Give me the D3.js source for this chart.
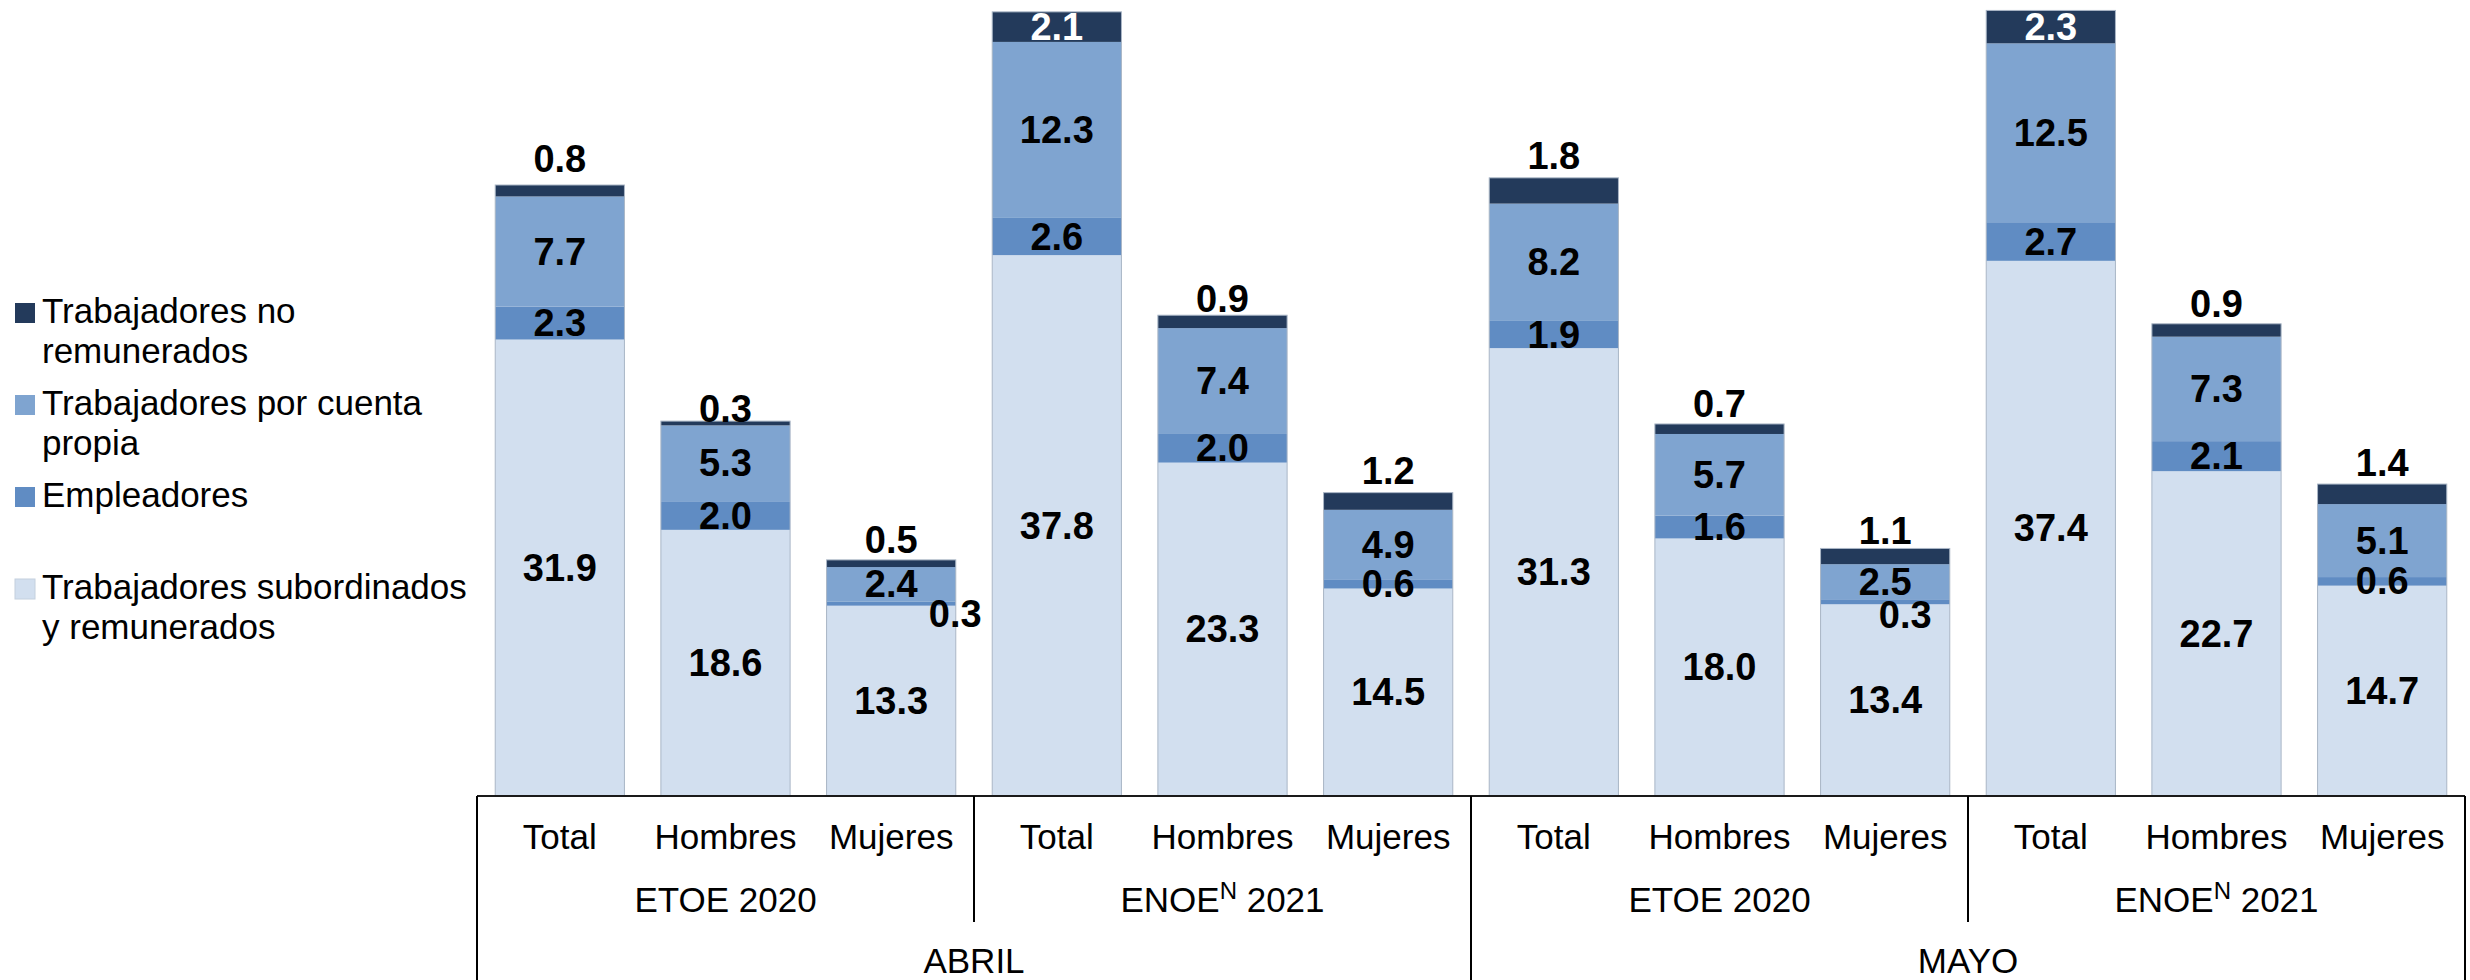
<!DOCTYPE html>
<html>
<head>
<meta charset="utf-8">
<script src="https://cdn.jsdelivr.net/npm/d3@7"></script>
<style>
  body { margin: 0; background: #fff; }
  text { font-family: "Liberation Sans", Arial, sans-serif; }
</style>
</head>
<body>
<div id="chart"></div>
<script>
// data (millones de personas)
const months = ["ABRIL", "MAYO"];
const surveys = ["ETOE 2020", "ENOE 2021"];
const sexes = ["Total", "Hombres", "Mujeres"];

const seriesNames = [
  "Trabajadores subordinados y remunerados",
  "Empleadores",
  "Trabajadores por cuenta propia",
  "Trabajadores no remunerados"
];
const subordinados = [31.9, 18.6, 13.3, 37.8, 23.3, 14.5, 31.3, 18.0, 13.4, 37.4, 22.7, 14.7];
const empleadores = [2.3, 2.0, 0.3, 2.6, 2.0, 0.6, 1.9, 1.6, 0.3, 2.7, 2.1, 0.6];
const cuentaPropia = [7.7, 5.3, 2.4, 12.3, 7.4, 4.9, 8.2, 5.7, 2.5, 12.5, 7.3, 5.1];
const noRemunerados = [0.8, 0.3, 0.5, 2.1, 0.9, 1.2, 1.8, 0.7, 1.1, 2.3, 0.9, 1.4];

const legendLines = [
  ["Trabajadores no", "remunerados"],
  ["Trabajadores por cuenta", "propia"],
  ["Empleadores"],
  ["Trabajadores subordinados", "y remunerados"]
];

const colors = ["#d2dfef", "#608cc3", "#7fa4d0", "#233a5b"];

const width = 2470;
const height = 980;
const margin = { top: 9, bottom: 184, left: 477, right: 5 };
const baseY = height - margin.bottom;

// one row per bar
const rows = subordinados.map((v, i) => ({
  key: i,
  month: months[Math.floor(i / 6)],
  survey: surveys[Math.floor(i / 3) % 2],
  sex: sexes[i % 3],
  s0: v, s1: empleadores[i], s2: cuentaPropia[i], s3: noRemunerados[i]
}));

const stack = d3.stack().keys(["s0", "s1", "s2", "s3"]);
const stacked = stack(rows);

// + SCALES
const xScale = d3.scaleBand()
  .domain(rows.map(d => d.key))
  .range([margin.left, width - margin.right])
  .paddingInner(0.22)
  .paddingOuter(0.11);

const yScale = d3.scaleLinear()
  .domain([0, 55])
  .range([baseY, margin.top]);

const gapHalf = (xScale.step() - xScale.bandwidth()) / 2;

// small manual label moves where the excel labels were dragged
const labelNudge = {
  "1-2": [64, 10], "1-8": [20, 13],
  "3-0": [0, -6], "3-1": [0, 8], "3-4": [0, 4], "3-5": [0, -2],
  "3-6": [0, -2], "3-8": [0, 3], "3-11": [0, -1]
};

const svg = d3.select("#chart").append("svg")
  .attr("width", width)
  .attr("height", height);

// + BARS
const layer = svg.selectAll("g.layer")
  .data(stacked)
  .join("g")
  .attr("class", "layer")
  .attr("fill", (d, i) => colors[i]);

layer.selectAll("rect")
  .data(d => d)
  .join("rect")
  .attr("x", d => xScale(d.data.key))
  .attr("y", d => yScale(d[1]))
  .attr("width", xScale.bandwidth())
  .attr("height", d => yScale(d[0]) - yScale(d[1]));

// thin outline round each bar
svg.append("g")
  .selectAll("rect")
  .data(rows)
  .join("rect")
  .attr("x", d => xScale(d.key))
  .attr("y", d => yScale(d.s0 + d.s1 + d.s2 + d.s3))
  .attr("width", xScale.bandwidth())
  .attr("height", d => baseY - yScale(d.s0 + d.s1 + d.s2 + d.s3))
  .attr("fill", "none")
  .attr("stroke", "#aab6c6")
  .attr("stroke-width", 1);

// + DATA LABELS
const labels = svg.append("g")
  .attr("font-size", 38)
  .attr("font-weight", "bold")
  .attr("text-anchor", "middle");

stacked.forEach((series, si) => {
  series.forEach(d => {
    const val = d[1] - d[0];
    const cx = xScale(d.data.key) + xScale.bandwidth() / 2;
    let cy = (yScale(d[0]) + yScale(d[1])) / 2;
    let fill = "#000";
    let baseline = "central";
    if (si === 3) {
      if (val >= 2) {
        fill = "#fff";
      } else {
        cy = yScale(d[1]) - 7;
        baseline = "alphabetic";
      }
    }
    const nudge = labelNudge[si + "-" + d.data.key] || [0, 0];
    labels.append("text")
      .attr("x", cx + nudge[0])
      .attr("y", cy + nudge[1])
      .attr("dominant-baseline", baseline)
      .attr("fill", fill)
      .text(d3.format(".1f")(val));
  });
});

// + CATEGORY AXIS (three levels)
const axis = svg.append("g")
  .attr("font-size", 35)
  .attr("text-anchor", "middle")
  .attr("fill", "#000");

axis.append("line")
  .attr("x1", margin.left)
  .attr("x2", width - margin.right)
  .attr("y1", baseY)
  .attr("y2", baseY)
  .attr("stroke", "#1a1a1a")
  .attr("stroke-width", 2);

axis.selectAll("text.sex")
  .data(rows)
  .join("text")
  .attr("class", "sex")
  .attr("x", d => xScale(d.key) + xScale.bandwidth() / 2)
  .attr("y", baseY + 53)
  .text(d => d.sex);

// survey groups of 3 bars
const surveyGroups = d3.range(4).map(g => ({
  name: surveys[g % 2],
  x0: xScale(g * 3) - gapHalf,
  x1: xScale(g * 3 + 2) + xScale.bandwidth() + gapHalf
}));

surveyGroups.forEach((g, i) => {
  const t = axis.append("text")
    .attr("x", (g.x0 + g.x1) / 2)
    .attr("y", baseY + 116);
  if (g.name.startsWith("ENOE")) {
    t.append("tspan").text("ENOE");
    t.append("tspan").attr("font-size", 24).attr("dy", -13).text("N");
    t.append("tspan").attr("dy", 13).text(" 2021");
  } else {
    t.text(g.name);
  }
  if (i % 2 === 1) {
    axis.append("line")
      .attr("x1", g.x0).attr("x2", g.x0)
      .attr("y1", baseY).attr("y2", baseY + 126)
      .attr("stroke", "#000")
      .attr("stroke-width", 2);
  }
});

// month groups of 6 bars
const monthGroups = months.map((m, g) => ({
  name: m,
  x0: xScale(g * 6) - gapHalf,
  x1: xScale(g * 6 + 5) + xScale.bandwidth() + gapHalf
}));

monthGroups.forEach(g => {
  axis.append("text")
    .attr("x", (g.x0 + g.x1) / 2)
    .attr("y", baseY + 177)
    .text(g.name);
  [g.x0, g.x1].forEach(x => {
    axis.append("line")
      .attr("x1", x).attr("x2", x)
      .attr("y1", baseY).attr("y2", height)
      .attr("stroke", "#000")
      .attr("stroke-width", 2);
  });
});

// + LEGEND (top item is the top of the stack)
const legend = svg.append("g")
  .attr("font-size", 35)
  .attr("fill", "#000");

const legendItems = legend.selectAll("g")
  .data(legendLines)
  .join("g")
  .attr("transform", (d, i) => `translate(15,${303 + i * 92})`);

legendItems.append("rect")
  .attr("width", 20)
  .attr("height", 20)
  .attr("fill", (d, i) => colors[3 - i])
  .attr("stroke", (d, i) => i === 3 ? "#c4d0de" : "none");

legendItems.each(function(lines) {
  const t = d3.select(this).append("text")
    .attr("x", 27)
    .attr("y", 20);
  lines.forEach((ln, j) => {
    t.append("tspan")
      .attr("x", 27)
      .attr("dy", j === 0 ? 0 : 40)
      .text(ln);
  });
});
</script>
</body>
</html>
